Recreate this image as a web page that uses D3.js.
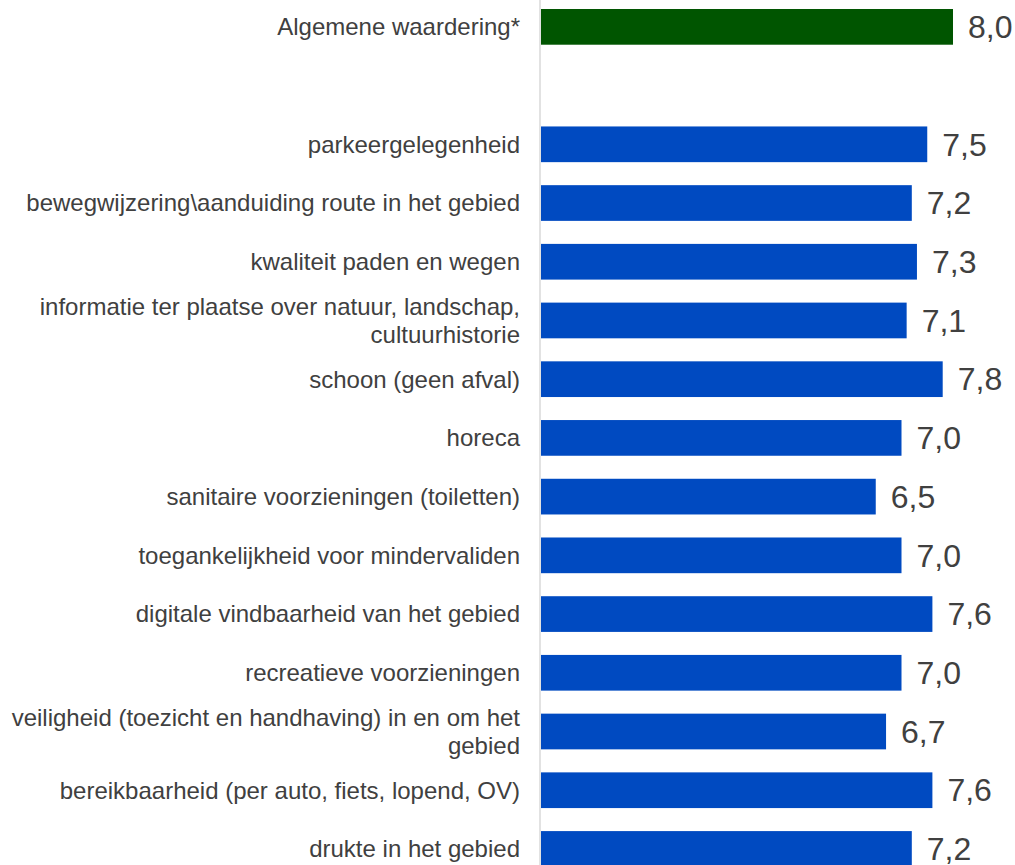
<!DOCTYPE html>
<html>
<head>
<meta charset="utf-8">
<script src="https://cdn.jsdelivr.net/npm/d3@7"></script>
<style>
  html, body { margin: 0; padding: 0; background: #fff; overflow: hidden; }
  svg { display: block; font-family: "Liberation Sans", Arial, sans-serif; }
</style>
</head>
<body>
<svg id="chart" width="1015" height="865"></svg>
<script>
// ---- data ----
const categories = [
  "Algemene waardering*",
  "",
  "parkeergelegenheid",
  "bewegwijzering\\aanduiding route in het gebied",
  "kwaliteit paden en wegen",
  "informatie ter plaatse over natuur, landschap, cultuurhistorie",
  "schoon (geen afval)",
  "horeca",
  "sanitaire voorzieningen (toiletten)",
  "toegankelijkheid voor mindervaliden",
  "digitale vindbaarheid van het gebied",
  "recreatieve voorzieningen",
  "veiligheid (toezicht en handhaving) in en om het gebied",
  "bereikbaarheid (per auto, fiets, lopend, OV)",
  "drukte in het gebied"
];
const values = [8.0, null, 7.5, 7.2, 7.3, 7.1, 7.8, 7.0, 6.5, 7.0, 7.6, 7.0, 6.7, 7.6, 7.2];
const highlight = [true, false, false, false, false, false, false, false, false, false, false, false, false, false, false];
const xMax = 8.0;

// ---- layout ----
const svg = d3.select("#chart");
const axisX = 541;
const x = d3.scaleLinear().domain([0, xMax]).range([axisX, 953]);
const ids = categories.map((c, i) => i);
const y = d3.scaleBand().domain(ids).range([-2.5, 878.3]).paddingInner(0.392).paddingOuter(0.196);

const rows = ids.map(i => ({ i, label: categories[i], value: values[i], hl: highlight[i] }));

// axis line
svg.append("line")
  .attr("x1", axisX - 1).attr("x2", axisX - 1)
  .attr("y1", 0).attr("y2", 865)
  .attr("stroke", "#d9d9d9").attr("stroke-width", 1.5);

// bars
svg.selectAll("rect.bar")
  .data(rows.filter(d => d.value != null))
  .join("rect")
  .attr("class", "bar")
  .attr("x", x(0))
  .attr("y", d => y(d.i))
  .attr("width", d => x(d.value) - x(0))
  .attr("height", y.bandwidth())
  .attr("fill", d => d.hl ? "#005500" : "#004ac1");

// value labels
svg.selectAll("text.val")
  .data(rows.filter(d => d.value != null))
  .join("text")
  .attr("class", "val")
  .attr("x", d => x(d.value) + 15)
  .attr("y", d => y(d.i) + y.bandwidth() / 2)
  .attr("dy", "0.35em")
  .attr("font-size", 32)
  .attr("fill", "#404040")
  .text(d => d3.format(".1f")(d.value).replace(".", ","));

// category labels with wrapping
const labelX = 520;
const maxW = 515;
const lineH = 27.6;
const labels = svg.selectAll("text.cat")
  .data(rows.filter(d => d.label))
  .join("text")
  .attr("class", "cat")
  .attr("x", labelX)
  .attr("text-anchor", "end")
  .attr("font-size", 24)
  .attr("fill", "#404040");

labels.each(function(d) {
  const t = d3.select(this);
  const words = d.label.split(" ");
  const lines = [];
  let cur = [];
  const probe = t.append("tspan");
  words.forEach(w => {
    const test = cur.concat([w]).join(" ");
    probe.text(test);
    if (probe.node().getComputedTextLength() > maxW && cur.length) {
      lines.push(cur.join(" "));
      cur = [w];
    } else {
      cur.push(w);
    }
  });
  lines.push(cur.join(" "));
  probe.remove();
  const cy = y(d.i) + y.bandwidth() / 2;
  const start = cy - (lines.length - 1) * lineH / 2;
  lines.forEach((ln, k) => {
    t.append("tspan")
      .attr("x", labelX)
      .attr("y", start + k * lineH)
      .attr("dy", "0.35em")
      .text(ln);
  });
});
</script>
</body>
</html>
